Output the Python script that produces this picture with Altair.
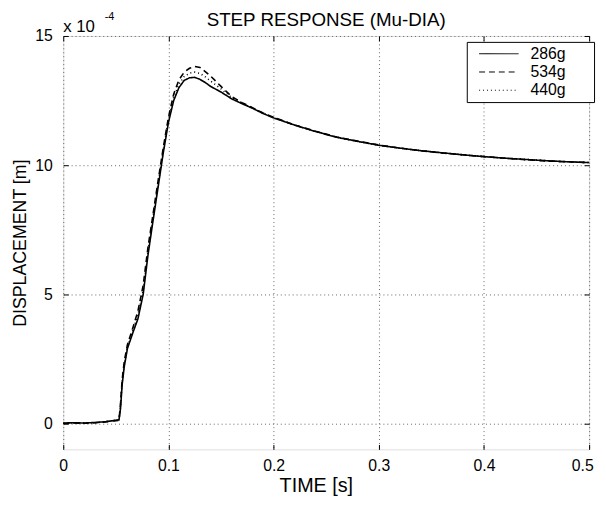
import altair as alt
import pandas as pd

# ---- data (displacement in units of 1e-4 m) ----
time_s = [0.000, 0.010, 0.020, 0.030, 0.040, 0.045, 0.050, 0.053, 0.0545, 0.056,
          0.058, 0.061, 0.0665, 0.071, 0.076, 0.0805, 0.085, 0.090, 0.095, 0.100,
          0.105, 0.110, 0.115, 0.120, 0.125, 0.130, 0.135, 0.140, 0.150, 0.160,
          0.170, 0.180, 0.190, 0.200, 0.220, 0.240, 0.260, 0.280, 0.300, 0.320,
          0.340, 0.360, 0.380, 0.400, 0.420, 0.440, 0.460, 0.480, 0.500]

disp_286g = [0.02, 0.03, 0.02, 0.04, 0.07, 0.10, 0.13, 0.15, 0.60, 1.50,
             2.20, 2.90, 3.55, 4.05, 5.00, 6.50, 7.75, 9.10, 10.45, 11.65,
             12.50, 13.00, 13.28, 13.38, 13.40, 13.32, 13.20, 13.05, 12.83, 12.57,
             12.38, 12.20, 12.00, 11.83, 11.55, 11.30, 11.08, 10.92, 10.77, 10.66,
             10.56, 10.48, 10.40, 10.33, 10.27, 10.22, 10.17, 10.13, 10.10]

disp_534g = [0.00, 0.02, 0.01, 0.03, 0.06, 0.09, 0.11, 0.12, 0.80, 1.70,
             2.40, 3.05, 3.75, 4.35, 5.35, 6.80, 8.00, 9.35, 10.65, 11.85,
             12.75, 13.30, 13.60, 13.75, 13.82, 13.78, 13.62, 13.45, 13.05, 12.66,
             12.42, 12.22, 12.02, 11.85, 11.56, 11.31, 11.09, 10.93, 10.78, 10.66,
             10.56, 10.47, 10.40, 10.33, 10.27, 10.21, 10.16, 10.13, 10.10]

disp_440g = [0.01, 0.03, 0.02, 0.03, 0.08, 0.09, 0.12, 0.14, 0.70, 1.60,
             2.30, 2.95, 3.65, 4.20, 5.15, 6.65, 7.88, 9.22, 10.55, 11.75,
             12.62, 13.14, 13.43, 13.56, 13.60, 13.55, 13.42, 13.26, 12.95, 12.62,
             12.40, 12.21, 12.01, 11.84, 11.55, 11.30, 11.08, 10.92, 10.77, 10.66,
             10.56, 10.48, 10.40, 10.33, 10.27, 10.22, 10.17, 10.13, 10.10]

series_names = ["286g", "534g", "440g"]
x_ticks = [0, 0.1, 0.2, 0.3, 0.4, 0.5]
y_ticks = [0, 5, 10, 15]
title_text = "STEP RESPONSE (Mu-DIA)"
x_title = "TIME [s]"
y_title = "DISPLACEMENT [m]"
exp_base = "x 10"
exp_power = "-4"

FONT = "Liberation Sans"

rows = []
for name, vals in zip(series_names, [disp_286g, disp_534g, disp_440g]):
    for t, v in zip(time_s, vals):
        rows.append({"t": t, "v": v, "series": name})
df = pd.DataFrame(rows)

xs = alt.Scale(domain=[0, 0.5], nice=False, zero=False)
ys = alt.Scale(domain=[-1, 15], nice=False, zero=False)

common_axis = dict(domain=False, labelFont=FONT, labelColor="black",
                   titleFont=FONT, titleFontWeight="normal", titleColor="black",
                   labelFlush=False)

main_x = alt.Axis(orient="bottom", values=x_ticks, format="~g", title=x_title,
                  grid=True, gridDash=[1, 3], gridColor="#666", gridWidth=1,
                  ticks=False, tickSize=0, labelFontSize=16, labelPadding=8,
                  labelOffset={"condition": {"test": "datum.value >= 0.5", "value": -7},
                               "value": 0},
                  titleFontSize=20, titlePadding=3, titleX=256, titleAlign="center",
                  **common_axis)
main_y = alt.Axis(orient="left", values=y_ticks, format="~g", title=y_title,
                  grid=True, gridDash=[1, 3], gridColor="#666", gridWidth=1,
                  ticks=False, tickSize=0, labelFontSize=16, labelPadding=11,
                  titleFontSize=18, titlePadding=5, **common_axis)

legend = alt.Legend(title=None, orient="none", legendX=409, legendY=6,
                    symbolType="M-2.857,0H2.857", symbolSize=196, symbolOffset=20.5,
                    symbolStrokeWidth=1, symbolStrokeColor="black",
                    labelFont=FONT, labelFontSize=16, labelColor="black",
                    labelOffset=24, padding=4, rowPadding=2.5,
                    strokeColor="black", fillColor="white",
                    labelExpr="datum.label + '\u2800\u2800'")

lines = alt.Chart(df).mark_line(color="black", strokeWidth=1.6).encode(
    x=alt.X("t:Q", scale=xs, axis=main_x),
    y=alt.Y("v:Q", scale=ys, axis=main_y),
    strokeDash=alt.StrokeDash(
        "series:N",
        scale=alt.Scale(domain=series_names, range=[[1, 0], [6, 4], [1, 3]]),
        sort=series_names,
        legend=legend,
    ),
)


def tick_axis(orient, vals):
    return alt.Axis(orient=orient, values=vals, labels=False, title=None,
                    grid=False, domain=False, ticks=True, tickSize=5,
                    tickColor="black", tickWidth=1, offset=-5)


ticks_tr = alt.Chart(df).mark_line(opacity=0).encode(
    x=alt.X("t:Q", scale=xs, axis=tick_axis("top", x_ticks)),
    y=alt.Y("v:Q", scale=ys, axis=tick_axis("right", y_ticks)),
    detail="series:N",
)
ticks_bl = alt.Chart(df).mark_line(opacity=0).encode(
    x=alt.X("t:Q", scale=xs, axis=tick_axis("bottom", x_ticks)),
    y=alt.Y("v:Q", scale=ys, axis=tick_axis("left", y_ticks)),
    detail="series:N",
)

title_mark = alt.Chart(pd.DataFrame({"s": [title_text]})).mark_text(
    font=FONT, fontSize=19, align="center", baseline="alphabetic", color="black"
).encode(x=alt.value(266.5), y=alt.value(-10), text="s:N")

x10 = alt.Chart(pd.DataFrame({"s": [exp_base]})).mark_text(
    font=FONT, fontSize=17, align="left", baseline="alphabetic", color="black"
).encode(x=alt.value(0), y=alt.value(-4), text="s:N")

pw = alt.Chart(pd.DataFrame({"s": [exp_power]})).mark_text(
    font=FONT, fontSize=11, align="left", baseline="alphabetic", color="black"
).encode(x=alt.value(42), y=alt.value(-16), text="s:N")

chart = (
    alt.layer(lines, ticks_tr, ticks_bl, title_mark, x10, pw)
    .resolve_axis(x="independent", y="independent")
    .properties(
        width=533,
        height=419,
        padding={"left": 56, "top": 25, "right": 9, "bottom": 51},
        autosize=alt.AutoSizeParams(type="none"),
    )
    .configure_view(stroke="black", strokeWidth=1)
    .configure(background="white")
)

chart.save("out.html", embed_options={"renderer": "svg", "actions": False})
